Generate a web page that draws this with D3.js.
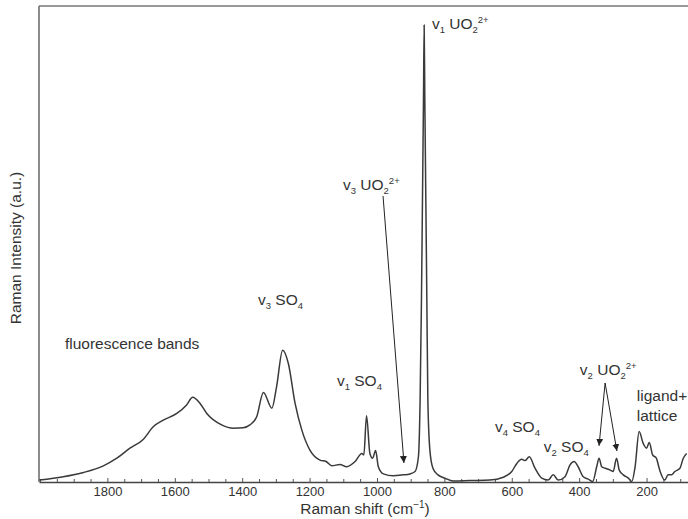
<!DOCTYPE html>
<html>
<head>
<meta charset="utf-8">
<script src="https://cdn.jsdelivr.net/npm/d3@7"></script>
<style>
  body { margin: 0; background: #fff; }
  text { font-family: "Liberation Sans", Arial, sans-serif; fill: #333; }
</style>
</head>
<body>
<svg id="chart" width="688" height="519"></svg>
<script>
// spectrum (Raman shift in cm-1, intensity in a.u.)
var shift = [2002, 1931, 1871, 1812, 1772, 1733, 1693, 1664, 1634, 1594, 1565, 1547,
  1525, 1505, 1461, 1426, 1397, 1377, 1357, 1337, 1312, 1298, 1280, 1263, 1243, 1223,
  1199, 1169, 1151, 1134, 1110, 1090, 1065, 1045, 1039, 1031, 1021, 1013, 1004, 996,
  981, 952, 922, 902, 887, 877, 872, 868, 865, 862, 860, 858, 855, 852, 849, 843, 834,
  819, 798, 774, 724, 665, 625, 600, 585, 571, 561, 548, 531, 511, 492, 477, 462, 442,
  427, 415, 403, 388, 373, 360, 348, 341, 333, 323, 308, 299, 289, 281, 269, 254, 244,
  234, 222, 210, 200, 192, 182, 171, 161, 146, 136, 126, 116, 101, 91, 81];
var intensity = [0.4, 1.1, 2.0, 3.4, 5.0, 7.1, 9.0, 11.6, 13.0, 14.4, 16.2, 17.8,
  16.5, 14.4, 12.0, 11.3, 11.4, 12.0, 13.7, 18.8, 15.5, 20.0, 27.7, 24.9, 16.5, 10.9,
  6.7, 4.6, 4.3, 3.4, 3.7, 3.2, 4.3, 6.0, 5.7, 13.9, 6.0, 5.0, 6.6, 3.2,
  1.7, 1.3, 1.5, 1.7, 2.2, 5.3, 17.2, 38.2, 59.2, 80.3, 96.0, 80.3, 59.2, 38.2, 17.2, 6.7, 2.9,
  1.5, 0.8, 0.2, 0.3, 0.4, 1.0, 2.2, 3.9, 4.8, 4.5, 5.3, 2.9, 0.8, 0.4, 1.5, 0.4, 1.1,
  3.6, 4.3, 3.2, 1.1, 0.6, 0.1, 3.2, 5.0, 3.2, 2.9, 2.5, 2.2, 5.0, 2.5, 1.5, 0.8, 0.1,
  3.2, 10.6, 8.1, 7.1, 8.3, 5.7, 5.0, 2.5, 0.4, 1.5, 1.5, 2.2, 2.9, 5.0, 6.0];

var tickLabels = [1800, 1600, 1400, 1200, 1000, 800, 600, 400, 200];

// peak labels: parts are [text, 'sub' | 'sup' | ''], anchored at (shift, intensity)
var labelParts = [
  [['fluorescence bands', '']],
  [['v', ''], ['3', 'sub'], [' SO', ''], ['4', 'sub']],
  [['v', ''], ['1', 'sub'], [' SO', ''], ['4', 'sub']],
  [['v', ''], ['3', 'sub'], [' UO', ''], ['2', 'sub'], ['2+', 'sup']],
  [['v', ''], ['1', 'sub'], [' UO', ''], ['2', 'sub'], ['2+', 'sup']],
  [['v', ''], ['4', 'sub'], [' SO', ''], ['4', 'sub']],
  [['v', ''], ['2', 'sub'], [' SO', ''], ['4', 'sub']],
  [['v', ''], ['2', 'sub'], [' UO', ''], ['2', 'sub'], ['2+', 'sup']],
  [['ligand+', '']],
  [['lattice', '']]
];
var labelShift = [1926, 1353, 1119, 1101, 837, 650, 505, 398, 229, 229];
var labelIntensity = [27.9, 37.2, 20.2, 61.3, 95.2, 10.5, 6.3, 22.5, 17.0, 12.8];

// arrows from label to band
var arrowFrom = [[982, 60.1], [323, 20.8], [323, 20.8]];
var arrowTo = [[920, 4.0], [341, 7.6], [288, 6.5]];

var svg = d3.select('#chart');
var margin = {left: 39, top: 6, bottom: 482, right: 688};

var x = d3.scaleLinear().domain([2003, 77]).range([margin.left, margin.right]);
var y = d3.scaleLinear().domain([0, 100]).range([margin.bottom, margin.top]);

svg.append('defs').append('marker')
  .attr('id', 'head')
  .attr('viewBox', '0 0 10 10')
  .attr('refX', 10).attr('refY', 5)
  .attr('markerWidth', 7).attr('markerHeight', 7)
  .attr('markerUnits', 'userSpaceOnUse')
  .attr('orient', 'auto')
  .append('path')
  .attr('d', 'M0,0L10,5L0,10z')
  .attr('fill', '#222');

// frame: left and top lines
svg.append('line')
  .attr('x1', margin.left).attr('x2', margin.left)
  .attr('y1', margin.top).attr('y2', margin.bottom)
  .attr('stroke', '#666').attr('stroke-width', 1.5);
svg.append('line')
  .attr('x1', margin.left).attr('x2', margin.right)
  .attr('y1', margin.top).attr('y2', margin.top)
  .attr('stroke', '#777').attr('stroke-width', 1.5);

// bottom axis, ticks point inward
var minorTicks = d3.range(2000, 50, -50);
var xAxis = d3.axisBottom(x)
  .tickValues(minorTicks)
  .tickSizeInner(-3)
  .tickSizeOuter(0)
  .tickFormat(function(d) {
    return tickLabels.indexOf(d) >= 0 ? d : '';
  });
var gx = svg.append('g')
  .attr('transform', 'translate(0,' + margin.bottom + ')')
  .call(xAxis);
gx.select('.domain').attr('stroke', '#444').attr('stroke-width', 1.4);
gx.selectAll('.tick line').attr('stroke', '#555')
  .attr('y2', function(d) { return tickLabels.indexOf(d) >= 0 ? -4 : -3; });
gx.selectAll('.tick text')
  .attr('y', 5)
  .style('font-family', '"Liberation Sans", Arial, sans-serif')
  .style('font-size', '13px')
  .attr('fill', '#333');

// spectrum
var points = shift.map(function(s, i) { return [s, intensity[i]]; });
var line = d3.line()
  .x(function(d) { return x(d[0]); })
  .y(function(d) { return y(d[1]); })
  .curve(d3.curveMonotoneX);
svg.append('path')
  .datum(points)
  .attr('d', line)
  .attr('fill', 'none')
  .attr('stroke', '#3a3a3a')
  .attr('stroke-width', 1.5)
  .attr('stroke-linejoin', 'round');

// arrows
arrowFrom.forEach(function(from, i) {
  svg.append('line')
    .attr('x1', x(from[0])).attr('y1', y(from[1]))
    .attr('x2', x(arrowTo[i][0])).attr('y2', y(arrowTo[i][1]))
    .attr('stroke', '#222').attr('stroke-width', 1)
    .attr('marker-end', 'url(#head)');
});

// labels
labelParts.forEach(function(parts, i) {
  var t = svg.append('text')
    .attr('x', x(labelShift[i]))
    .attr('y', y(labelIntensity[i]))
    .style('font-size', '15.5px');
  var level = 0;
  parts.forEach(function(p) {
    var target = p[1] === 'sub' ? 4 : (p[1] === 'sup' ? -6 : 0);
    var ts = t.append('tspan')
      .attr('dy', target - level)
      .text(p[0]);
    if (p[1]) {
      ts.style('font-size', '9.5px');
    }
    level = target;
  });
});

// axis titles
svg.append('text')
  .attr('x', 365)
  .attr('y', 514)
  .attr('text-anchor', 'middle')
  .style('font-size', '15.5px')
  .call(function(t) {
    t.append('tspan').text('Raman shift (cm');
    t.append('tspan').attr('dy', -6).style('font-size', '10px').text('\u22121');
    t.append('tspan').attr('dy', 6).text(')');
  });

svg.append('text')
  .attr('transform', 'translate(21,248) rotate(-90)')
  .attr('text-anchor', 'middle')
  .style('font-size', '15.5px')
  .text('Raman Intensity (a.u.)');
</script>
</body>
</html>
